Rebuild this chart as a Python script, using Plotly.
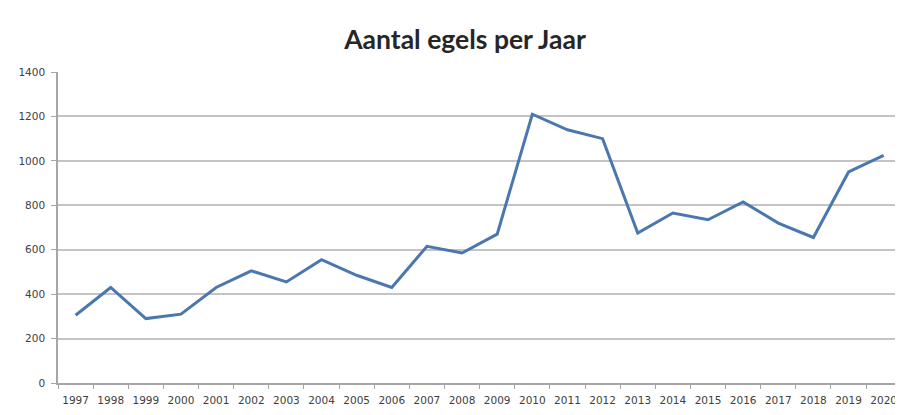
import plotly.graph_objects as go

years = [str(y) for y in range(1997, 2021)]
counts = [305, 430, 290, 310, 430, 505, 455, 555, 485, 430, 615, 585,
          670, 1210, 1140, 1100, 675, 765, 735, 815, 720, 655, 950, 1025]
y_ticks = [0, 200, 400, 600, 800, 1000, 1200, 1400]

# page shows the figure offset by the default 8px body margin
W, H = 895, 407

fig = go.Figure()
fig.add_trace(go.Scatter(
    x=years, y=counts, mode="lines",
    line=dict(color="#4A77AE", width=3),
    hoverinfo="x+y",
))

fig.update_layout(
    width=W, height=H,
    margin=dict(l=50, r=0, t=64, b=32, autoexpand=False),
    paper_bgcolor="white", plot_bgcolor="white",
    showlegend=False,
    font=dict(family="DejaVu Sans, sans-serif", color="#404040"),
    title=dict(text="<b>Aantal egels per Jaar</b>", x=(465 - 8) / W, xanchor="center",
               xref="container",
               y=1 - 32 / H, yanchor="middle",
               font=dict(size=26.5, color="#262626", family="Lato, Open Sans, sans-serif")),
)
fig.update_xaxes(
    type="category", range=[-0.5, 23.55],
    tickson="boundaries", ticks="outside", ticklen=4, tickcolor="#A6A6A6",
    showline=True, linecolor="#A6A6A6", linewidth=1.5,
    showgrid=False, tickfont=dict(size=10.5, color="#404040"),
    tickangle=0, ticklabelstandoff=7,
)
fig.update_yaxes(
    range=[0, 1400], tickvals=y_ticks,
    ticks="outside", ticklen=5, tickcolor="#A6A6A6",
    showline=True, linecolor="#A6A6A6", linewidth=1.5,
    gridcolor="#C4C4C4", gridwidth=1.5,
    zeroline=False, tickfont=dict(size=10.5, color="#404040"),
    ticklabelstandoff=4,
)

fig.write_html("out.html")
